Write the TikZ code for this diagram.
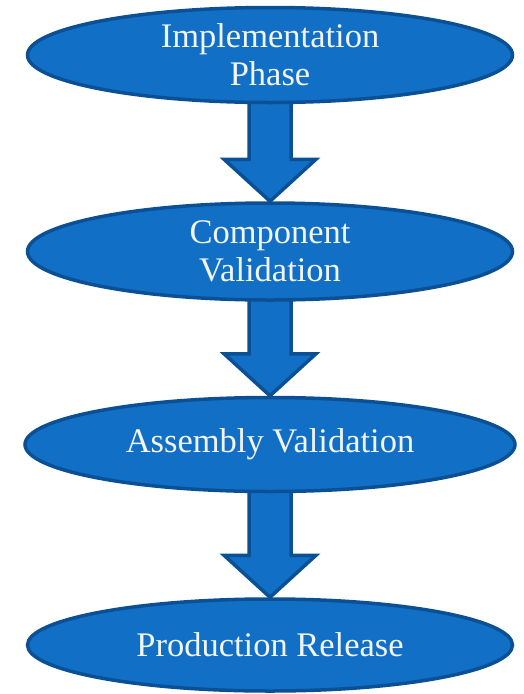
\documentclass[tikz,border=0pt]{standalone}
\usepackage{fontspec}
\setmainfont{Liberation Serif}
\usetikzlibrary{shapes.geometric, positioning, calc, backgrounds}

\definecolor{phasefill}{RGB}{17,112,198}
\definecolor{phaseline}{RGB}{11,80,148}
\definecolor{phasetext}{RGB}{242,244,248}

% fat down arrow from one phase to the next
\newcommand{\blockarrow}[2]{%
  \draw[blockarr] ($(#1.south)+(-21,6)$) -- ($(#2.north)+(-21,42)$)
      -- ($(#2.north)+(-46,42)$) -- (#2.north) -- ($(#2.north)+(46,42)$)
      -- ($(#2.north)+(21,42)$) -- ($(#1.south)+(21,6)$) -- cycle;}

\begin{document}
\begin{tikzpicture}[
    x=1pt, y=1pt,
    phase/.style={ellipse, draw=phaseline, fill=phasefill, line width=3.5pt,
                  inner sep=0pt, minimum width=485pt, minimum height=95pt,
                  align=center, text=phasetext,
                  font=\fontsize{34.5}{38}\selectfont},
    blockarr/.style={draw=phaseline, fill=phasefill, line width=3.5pt,
                     line join=miter}
]
\useasboundingbox (0,0) rectangle (523,-694);

% ---- phases ----
\node[phase]                       (impl) at (270,-55) {Implementation\\Phase};
\node[phase, below=97pt of impl,
      minimum height=97pt]         (comp) {Component\\Validation};
\node[phase, below=94pt of comp,
      minimum width=490pt, minimum height=94pt] (asm) {Assembly Validation};
\node[phase, below=104pt of asm,
      minimum height=92pt]         (prod) {Production Release};

% ---- arrows ----
\begin{pgfonlayer}{background}
    \blockarrow{impl}{comp}
    \blockarrow{comp}{asm}
    \blockarrow{asm}{prod}
\end{pgfonlayer}

\end{tikzpicture}
\end{document}
